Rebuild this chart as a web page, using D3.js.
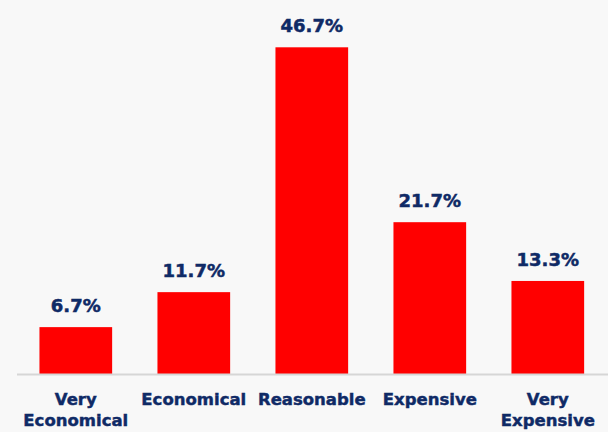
<!DOCTYPE html>
<html>
<head>
<meta charset="utf-8">
<script src="https://cdn.jsdelivr.net/npm/d3@7"></script>
<style>
  html, body { margin: 0; padding: 0; background: #f8f8f8; }
  svg { display: block; }
</style>
</head>
<body>
<svg id="chart" width="608" height="432"></svg>
<script>
// Price perception survey: share of respondents per rating
const categories = [["Very", "Economical"], ["Economical"], ["Reasonable"], ["Expensive"], ["Very", "Expensive"]];
const values = [6.7, 11.7, 46.7, 21.7, 13.3];
const valueLabels = ["6.7%", "11.7%", "46.7%", "21.7%", "13.3%"];

const width = 608, height = 432;
const baseY = 374, topY = 47.3;
const navy = "#0f2a66";
const font = "'DejaVu Sans', Verdana, sans-serif";

const svg = d3.select("#chart");
svg.append("rect").attr("width", width).attr("height", height).attr("fill", "#f8f8f8");

const keys = categories.map((c, i) => i);
const x = d3.scaleBand()
  .domain(keys)
  .range([16.8, 606.8])
  .paddingInner(0.384)
  .paddingOuter(0.192);

const y = d3.scaleLinear()
  .domain([0, d3.max(values)])
  .range([baseY, topY]);

// Bars
svg.append("g").selectAll("rect")
  .data(values)
  .join("rect")
  .attr("x", (d, i) => x(i))
  .attr("y", d => y(d))
  .attr("width", x.bandwidth())
  .attr("height", d => baseY - y(d))
  .attr("fill", "#ff0000");

// Baseline
svg.append("line")
  .attr("x1", 17).attr("x2", 608)
  .attr("y1", baseY + 0.5).attr("y2", baseY + 0.5)
  .attr("stroke", "#d6d6d6").attr("stroke-width", 2);

// Value labels above the bars
svg.append("g").selectAll("text")
  .data(values)
  .join("text")
  .attr("x", (d, i) => x(i) + x.bandwidth() / 2)
  .attr("y", d => y(d) - 15)
  .attr("text-anchor", "middle")
  .attr("font-family", font)
  .attr("font-weight", "bold")
  .attr("font-size", 18)
  .attr("fill", navy)
  .attr("stroke", navy)
  .attr("stroke-width", 0.5)
  .text((d, i) => valueLabels[i]);

// Category labels
const cat = svg.append("g").selectAll("text")
  .data(categories)
  .join("text")
  .attr("x", (d, i) => x(i) + x.bandwidth() / 2)
  .attr("y", 405)
  .attr("text-anchor", "middle")
  .attr("font-family", font)
  .attr("font-weight", "bold")
  .attr("font-size", 16.5)
  .attr("fill", navy)
  .attr("stroke", navy)
  .attr("stroke-width", 0.45);

cat.selectAll("tspan")
  .data(d => d)
  .join("tspan")
  .attr("x", function () { return d3.select(this.parentNode).attr("x"); })
  .attr("dy", (d, i) => i === 0 ? 0 : 21)
  .text(d => d);
</script>
</body>
</html>
